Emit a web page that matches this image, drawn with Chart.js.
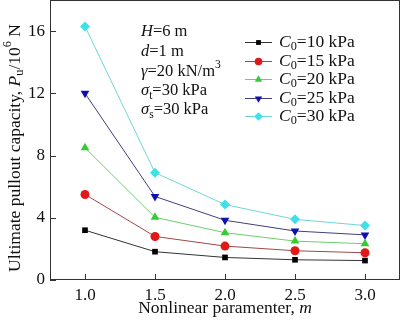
<!DOCTYPE html>
<html>
<head>
<meta charset="utf-8">
<script src="https://cdn.jsdelivr.net/npm/chart.js@4/dist/chart.umd.min.js"></script>
<style>
  html, body { margin: 0; padding: 0; background: #fff; }
  #wrap { width: 400px; height: 325px; }
</style>
</head>
<body>
<div id="wrap"><canvas id="chart" width="400" height="325"></canvas></div>
<script>
// nonlinear parameter m
var mValues = [1.0, 1.5, 2.0, 2.5, 3.0];
// cohesion values, kPa
var c0Values = [10, 15, 20, 25, 30];
// ultimate pullout capacity Pu / 10^6 N
var pu10 = [3.2, 1.82, 1.45, 1.3, 1.25];
var pu15 = [5.5, 2.8, 2.18, 1.88, 1.75];
var pu20 = [8.5, 4.03, 3.04, 2.5, 2.33];
var pu25 = [12.0, 5.37, 3.84, 3.15, 2.9];
var pu30 = [16.3, 6.9, 4.85, 3.9, 3.5];
var yTicks = [0, 4, 8, 12, 16];
var xTicks = [1.0, 1.5, 2.0, 2.5, 3.0];

var seriesValues = [pu10, pu15, pu20, pu25, pu30];
var lineColors = ['#333333', '#a04848', '#6ccf6c', '#40407a', '#6fd6d6'];
var markColors = ['#000000', '#e01818', '#33cc33', '#1010b0', '#40e0e8'];
var markStyles = ['rect', 'circle', 'triangle', 'triangle', 'rectRot'];
var markRot = [0, 0, 0, 180, 0];
var markSize = [4, 4.5, 5, 5, 5];

var SERIF = '"Liberation Serif", "DejaVu Serif", serif';

var datasets = seriesValues.map(function (vals, i) {
  return {
    label: String(c0Values[i]),
    data: vals.map(function (v, j) { return { x: mValues[j], y: v }; }),
    borderColor: lineColors[i],
    borderWidth: 1,
    backgroundColor: markColors[i],
    pointBackgroundColor: markColors[i],
    pointBorderColor: markColors[i],
    pointStyle: markStyles[i],
    pointRotation: markRot[i],
    pointRadius: markSize[i],
    pointBorderWidth: 0,
    tension: 0
  };
});

// draws a run of text pieces: [text, style] where style = 'n','i','sub','sup'
function drawRich(ctx, x, y, parts, size) {
  var cx = x;
  parts.forEach(function (p) {
    var txt = p[0], st = p[1] || 'n';
    var fs = size, dy = 0, italic = false;
    if (st === 'i') italic = true;
    if (st === 'sub') { fs = size * 0.7; dy = size * 0.3; }
    if (st === 'sup') { fs = size * 0.7; dy = -size * 0.4; }
    ctx.font = (italic ? 'italic ' : '') + fs + 'px ' + SERIF;
    ctx.fillText(txt, cx, y + dy);
    cx += ctx.measureText(txt).width;
  });
  return cx - x;
}

function richWidth(ctx, parts, size) {
  var w = 0;
  parts.forEach(function (p) {
    var st = p[1] || 'n';
    var fs = (st === 'sub' || st === 'sup') ? size * 0.7 : size;
    ctx.font = (st === 'i' ? 'italic ' : '') + fs + 'px ' + SERIF;
    w += ctx.measureText(p[0]).width;
  });
  return w;
}

var decorPlugin = {
  id: 'decor',
  afterDraw: function (chart) {
    var ctx = chart.ctx;
    var a = chart.chartArea;
    var xs = chart.scales.x, ys = chart.scales.y;
    ctx.save();
    // frame
    ctx.strokeStyle = '#333';
    ctx.lineWidth = 1;
    ctx.strokeRect(a.left + 0.5, a.top + 0.5, a.right - a.left - 1, a.bottom - a.top - 1);
    // inward ticks
    ctx.beginPath();
    xTicks.forEach(function (t) {
      var px = Math.round(xs.getPixelForValue(t)) + 0.5;
      ctx.moveTo(px, a.bottom);
      ctx.lineTo(px, a.bottom - 6);
    });
    yTicks.forEach(function (t) {
      var py = Math.round(ys.getPixelForValue(t)) + 0.5;
      ctx.moveTo(a.left, py);
      ctx.lineTo(a.left + 6, py);
    });
    ctx.stroke();

    ctx.fillStyle = '#111';
    ctx.textBaseline = 'middle';
    ctx.textAlign = 'left';

    // parameter annotation
    var notes = [
      [['H', 'i'], ['=6 m']],
      [['d', 'i'], ['=1 m']],
      [['\u03b3', 'i'], ['=20 kN/m'], ['3', 'sup']],
      [['\u03c3', 'i'], ['t', 'sub'], ['=30 kPa']],
      [['\u03c3', 'i'], ['s', 'sub'], ['=30 kPa']]
    ];
    var ny = [32, 52, 72, 91, 110];
    notes.forEach(function (n, i) { drawRich(ctx, 141, ny[i], n, 16.5); });

    // legend
    var ly = [42, 61, 79, 98, 116];
    chart.data.datasets.forEach(function (ds, i) {
      var y = ly[i];
      ctx.strokeStyle = ds.borderColor;
      ctx.lineWidth = 1;
      ctx.beginPath();
      ctx.moveTo(245, y + 0.5);
      ctx.lineTo(272, y + 0.5);
      ctx.stroke();
      ctx.fillStyle = ds.pointBackgroundColor;
      Chart.helpers.drawPoint(ctx, {
        pointStyle: ds.pointStyle, rotation: ds.pointRotation,
        radius: ds.pointRadius * 0.85, borderWidth: 0
      }, 258.5, y + 0.5);
      ctx.fillStyle = '#111';
      drawRich(ctx, 279, y, [['C', 'i'], ['0', 'sub'], ['=' + ds.label + ' kPa']], 17.5);
    });

    // x title
    var xt = [['Nonlinear paramenter, '], ['m', 'i']];
    var xw = richWidth(ctx, xt, 17.5);
    drawRich(ctx, 225 - xw / 2, 308, xt, 17.5);

    // y title
    var yt = [['Ultimate pullout capacity, '], ['P', 'i'], ['u', 'sub'], ['/10'], ['6', 'sup'], [' N']];
    var yw = richWidth(ctx, yt, 17.5);
    ctx.translate(15, 148);
    ctx.rotate(-Math.PI / 2);
    drawRich(ctx, -yw / 2, 0, yt, 17.5);
    ctx.restore();
  }
};

function zeroPad(s) {
  s.paddingTop = 0; s.paddingBottom = 0; s.paddingLeft = 0; s.paddingRight = 0;
}

new Chart(document.getElementById('chart').getContext('2d'), {
  type: 'line',
  data: { datasets: datasets },
  plugins: [decorPlugin],
  options: {
    responsive: false,
    animation: false,
    devicePixelRatio: 1,
    layout: { autoPadding: false, padding: { top: 0, right: 0, left: 0, bottom: 0 } },
    plugins: { legend: { display: false }, tooltip: { enabled: false } },
    scales: {
      x: {
        type: 'linear',
        min: 0.75, max: 3.25,
        afterBuildTicks: function (s) { s.ticks = xTicks.map(function (v) { return { value: v }; }); },
        afterFit: function (s) { s.height = 45; zeroPad(s); },
        grid: { display: false, drawTicks: false },
        border: { display: false },
        ticks: {
          padding: 5,
          color: '#111',
          font: { family: SERIF, size: 17 },
          callback: function (v) { return Number(v).toFixed(1); }
        }
      },
      y: {
        type: 'linear',
        min: 0, max: 18,
        afterBuildTicks: function (s) { s.ticks = yTicks.map(function (v) { return { value: v }; }); },
        afterFit: function (s) { s.width = 50; zeroPad(s); },
        grid: { display: false, drawTicks: false },
        border: { display: false },
        ticks: {
          padding: 5,
          color: '#111',
          font: { family: SERIF, size: 17 }
        }
      }
    }
  }
});
</script>
</body>
</html>
